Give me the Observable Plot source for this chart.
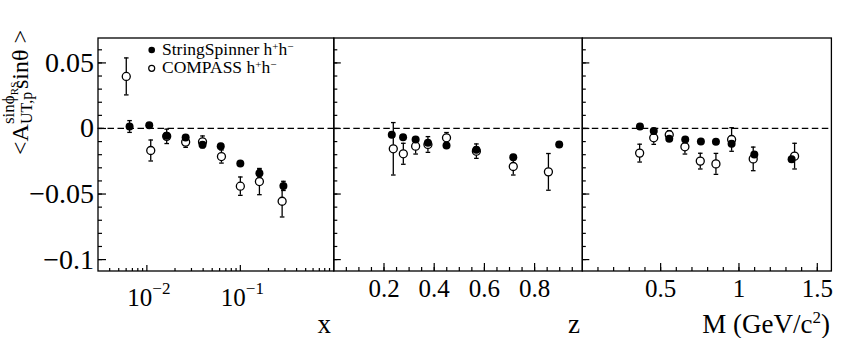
<!DOCTYPE html>
<html><head><meta charset="utf-8">
<script src="https://cdn.jsdelivr.net/npm/d3@7"></script>
<script src="https://cdn.jsdelivr.net/npm/@observablehq/plot@0.6"></script>
<style>
body{margin:0;background:#fff;}
#wrap{position:relative;width:860px;height:338px;overflow:hidden;background:#fff;}
#wrap svg{position:absolute;left:0;top:0;overflow:visible;}
</style></head><body><div id="wrap"></div>
<script>
// ---------- data: panel x ----------
const xSS   = [0.00653, 0.0106, 0.0163, 0.026, 0.0394, 0.0617, 0.100, 0.160, 0.289];
const ySSx  = [0.0015, 0.0025, -0.0056, -0.0069, -0.0125, -0.0135, -0.0267, -0.0341, -0.0438];
const eSSx  = [0.0045, 0.0015, 0.002, 0.002, 0.002, 0.002, 0.0015, 0.003, 0.0035];
const xC    = [0.00602, 0.0110, 0.0163, 0.026, 0.0394, 0.0628, 0.100, 0.160, 0.280];
const yCx   = [0.0397, -0.0168, -0.006, -0.0104, -0.0102, -0.0214, -0.044, -0.0405, -0.0555];
const eCx   = [0.0141, 0.008, 0.0055, 0.004, 0.0045, 0.005, 0.007, 0.010, 0.012];
// ---------- data: panel z ----------
const zSS   = [0.231, 0.276, 0.326, 0.375, 0.449, 0.568, 0.715, 0.898];
const ySSz  = [-0.0048, -0.0066, -0.0084, -0.0109, -0.013, -0.0163, -0.0219, -0.0122];
const eSSz  = [0.002, 0.0015, 0.0015, 0.0015, 0.0015, 0.002, 0.002, 0.002];
const zC    = [0.237, 0.277, 0.326, 0.375, 0.449, 0.568, 0.715, 0.855];
const yCz   = [-0.0155, -0.0193, -0.0135, -0.0122, -0.0071, -0.0173, -0.029, -0.0331];
const eCz   = [0.020, 0.008, 0.006, 0.006, 0.004, 0.0055, 0.0065, 0.014];
// ---------- data: panel M ----------
const mSS   = [0.368, 0.456, 0.555, 0.657, 0.757, 0.853, 0.953, 1.098, 1.336];
const ySSm  = [0.0015, -0.002, -0.0079, -0.0084, -0.0099, -0.0102, -0.0117, -0.0199, -0.0234];
const eSSm  = [0.002, 0.002, 0.0015, 0.0015, 0.0015, 0.0015, 0.002, 0.002, 0.002];
const mC    = [0.366, 0.456, 0.555, 0.655, 0.753, 0.853, 0.953, 1.091, 1.355];
const yCm   = [-0.0188, -0.0071, -0.0048, -0.014, -0.0249, -0.027, -0.0084, -0.0232, -0.0211];
const eCm   = [0.0068, 0.005, 0.003, 0.0055, 0.006, 0.008, 0.009, 0.009, 0.0098];
// ---------- axes ----------
const yDomain = [-0.1087, 0.069];
const yMajor = [-0.1, -0.05, 0, 0.05];
const yTickLabels = ["\u22120.1", "\u22120.05", "0", "0.05"];
const xLogMajor = [0.01, 0.1];
const xLogBase = ["10", "10"];
const xLogExp = ["\u22122", "\u22121"];
const zMajor = [0.2, 0.4, 0.6, 0.8];
const zTickLabels = ["0.2", "0.4", "0.6", "0.8"];
const mMajor = [0.5, 1, 1.5];
const mTickLabels = ["0.5", "1", "1.5"];
const axisTitles = ["x", "z", "M (GeV/c", "2", ")"];
const legendNames = ["StringSpinner", "COMPASS"];

const yMinor = d3.range(-10, 7).map(k => k / 100);
const xLogMinor = [];
[0.001, 0.01, 0.1].forEach(dec => { for (let k = 2; k <= 9; k++) { const v = k * dec; if (v > 0.003 && v < 1) xLogMinor.push(v); } });
const zMinor = d3.range(1, 20).map(k => k * 0.05);
const mMinor = d3.range(1, 16).map(k => k / 10);

const rows = (xs, ys, es) => xs.map((x, i) => ({x, y: ys[i], e: es[i]}));
const cap = {draw(ctx) { ctx.moveTo(-2.3, 0); ctx.lineTo(2.3, 0); }};
const upTick = len => ({draw(ctx) { ctx.moveTo(0, 0); ctx.lineTo(0, -len); }});
const rightTick = len => ({draw(ctx) { ctx.moveTo(0, 0); ctx.lineTo(len, 0); }});

const FONT = "Liberation Serif";
const TOP = 37.5, BOTTOM = 270.5;
const tickStyle = {stroke: "black", fill: "none", strokeWidth: 1.2, r: 1};

function panel({type, domain, left, right, major, minor, majLen, minLen, yMaj, yMin, labels, ss, cc, yLabels, logLabels}) {
  const marks = [
    Plot.ruleY([0], {strokeDasharray: "6.5,3.5", strokeWidth: 1.3, stroke: "black"}),
    // y ticks (inward)
    Plot.dot(yMinor, {y: d => d, frameAnchor: "left", symbol: rightTick(yMin), ...tickStyle}),
    Plot.dot(yMajor, {y: d => d, frameAnchor: "left", symbol: rightTick(yMaj), ...tickStyle}),
    // x ticks (inward)
    Plot.dot(minor, {x: d => d, frameAnchor: "bottom", symbol: upTick(minLen), ...tickStyle}),
    Plot.dot(major, {x: d => d, frameAnchor: "bottom", symbol: upTick(majLen), ...tickStyle}),
    // COMPASS
    Plot.ruleX(cc, {x: "x", y1: d => d.y - d.e, y2: d => d.y + d.e, stroke: "black", strokeWidth: 1.3}),
    Plot.dot(cc, {x: "x", y: d => d.y - d.e, symbol: cap, r: 3, stroke: "black", fill: "none", strokeWidth: 1.3}),
    Plot.dot(cc, {x: "x", y: d => d.y + d.e, symbol: cap, r: 3, stroke: "black", fill: "none", strokeWidth: 1.3}),
    Plot.dot(cc, {x: "x", y: "y", r: 4, fill: "white", stroke: "black", strokeWidth: 1.3}),
    // StringSpinner
    Plot.ruleX(ss, {x: "x", y1: d => d.y - d.e, y2: d => d.y + d.e, stroke: "black", strokeWidth: 1.3}),
    Plot.dot(ss, {x: "x", y: d => d.y - d.e, symbol: cap, r: 3, stroke: "black", fill: "none", strokeWidth: 1.3}),
    Plot.dot(ss, {x: "x", y: d => d.y + d.e, symbol: cap, r: 3, stroke: "black", fill: "none", strokeWidth: 1.3}),
    Plot.dot(ss, {x: "x", y: "y", r: 4, fill: "black", stroke: "none"}),
    Plot.frame({stroke: "black", strokeWidth: 1.3})
  ];
  if (logLabels) {
    marks.push(Plot.text(major, {x: d => d, frameAnchor: "bottom", text: (d, i) => xLogBase[i],
      textAnchor: "end", lineAnchor: "top", dx: 5.5, dy: 17, fontSize: 25}));
    marks.push(Plot.text(major, {x: d => d, frameAnchor: "bottom", text: (d, i) => xLogExp[i],
      textAnchor: "start", lineAnchor: "top", dx: 5.5, dy: 11, fontSize: 17}));
  } else {
    marks.push(Plot.text(major, {x: d => d, frameAnchor: "bottom", text: (d, i) => labels[i],
      textAnchor: "middle", lineAnchor: "top", dy: 8, fontSize: 25}));
  }
  if (yLabels) marks.push(Plot.text(yMajor, {y: d => d, frameAnchor: "left", text: (d, i) => yTickLabels[i],
      textAnchor: "end", dx: -4, fontSize: 28}));
  return Plot.plot({
    width: 860, height: 338,
    marginLeft: left, marginRight: 860 - right, marginTop: TOP, marginBottom: 338 - BOTTOM,
    x: {type, domain, axis: null},
    y: {domain: yDomain, axis: null},
    style: {background: "transparent", fontFamily: FONT, color: "black", overflow: "visible"},
    marks
  });
}

const wrap = document.getElementById("wrap");
const p1 = panel({type: "log", domain: [0.003, 1], left: 97.5, right: 333.3, major: xLogMajor, minor: xLogMinor,
  majLen: 6, minLen: 3, yMaj: 8, yMin: 4, ss: rows(xSS, ySSx, eSSx), cc: rows(xC, yCx, eCx), yLabels: true, logLabels: true});
const p2 = panel({type: "linear", domain: [0, 0.99], left: 333.3, right: 581.8, major: zMajor, minor: zMinor,
  majLen: 8, minLen: 4, yMaj: 7, yMin: 3.5, labels: zTickLabels, ss: rows(zSS, ySSz, eSSz), cc: rows(zC, yCz, eCz)});
const p3 = panel({type: "linear", domain: [0, 1.59], left: 581.8, right: 830.9, major: mMajor, minor: mMinor,
  majLen: 8, minLen: 4, yMaj: 7, yMin: 3.5, labels: mTickLabels, ss: rows(mSS, ySSm, eSSm), cc: rows(mC, yCm, eCm)});
wrap.append(p1, p2, p3);

// overlay: titles and legend
const ov = d3.select(wrap).append("svg").attr("width", 860).attr("height", 338)
  .attr("font-family", FONT).attr("fill", "black");

// y title
const g = ov.append("g").attr("transform", "translate(28,155) rotate(-90)");
g.append("text").attr("x", 0).attr("y", 0).attr("font-size", 24).text("<A");
g.append("text").attr("x", 31).attr("y", 4).attr("font-size", 16).text("UT,p");
const sup = g.append("text").attr("x", 31).attr("y", -14).attr("font-size", 17).text("sin\u03d5");
sup.append("tspan").attr("dy", 4).attr("font-size", 11).text("RS");
g.append("text").attr("x", 66).attr("y", 0).attr("font-size", 24).text("sin\u03b8 >");

// axis titles
ov.append("text").attr("x", 331).attr("y", 333).attr("font-size", 27).attr("text-anchor", "end").text(axisTitles[0]);
ov.append("text").attr("x", 580).attr("y", 333).attr("font-size", 27).attr("text-anchor", "end").text(axisTitles[1]);
const mt = ov.append("text").attr("x", 830).attr("y", 333).attr("font-size", 27).attr("text-anchor", "end");
mt.append("tspan").text(axisTitles[2]);
mt.append("tspan").attr("dy", -10).attr("font-size", 17).text(axisTitles[3]);
mt.append("tspan").attr("dy", 10).text(axisTitles[4]);

// legend
legendNames.forEach((name, i) => {
  const cy = 50 + i * 18.3;
  ov.append("circle").attr("cx", 151.7).attr("cy", cy).attr("r", i === 0 ? 3.3 : 3)
    .attr("fill", i === 0 ? "black" : "white").attr("stroke", "black").attr("stroke-width", i === 0 ? 0 : 1.2);
  const t = ov.append("text").attr("x", 162).attr("y", cy + 5).attr("font-size", 17.5);
  t.append("tspan").text(name + " h");
  t.append("tspan").attr("dy", -5.5).attr("font-size", 11).text("+");
  t.append("tspan").attr("dy", 5.5).text("h");
  t.append("tspan").attr("dy", -5.5).attr("font-size", 11).text("\u2212");
});
</script></body></html>
